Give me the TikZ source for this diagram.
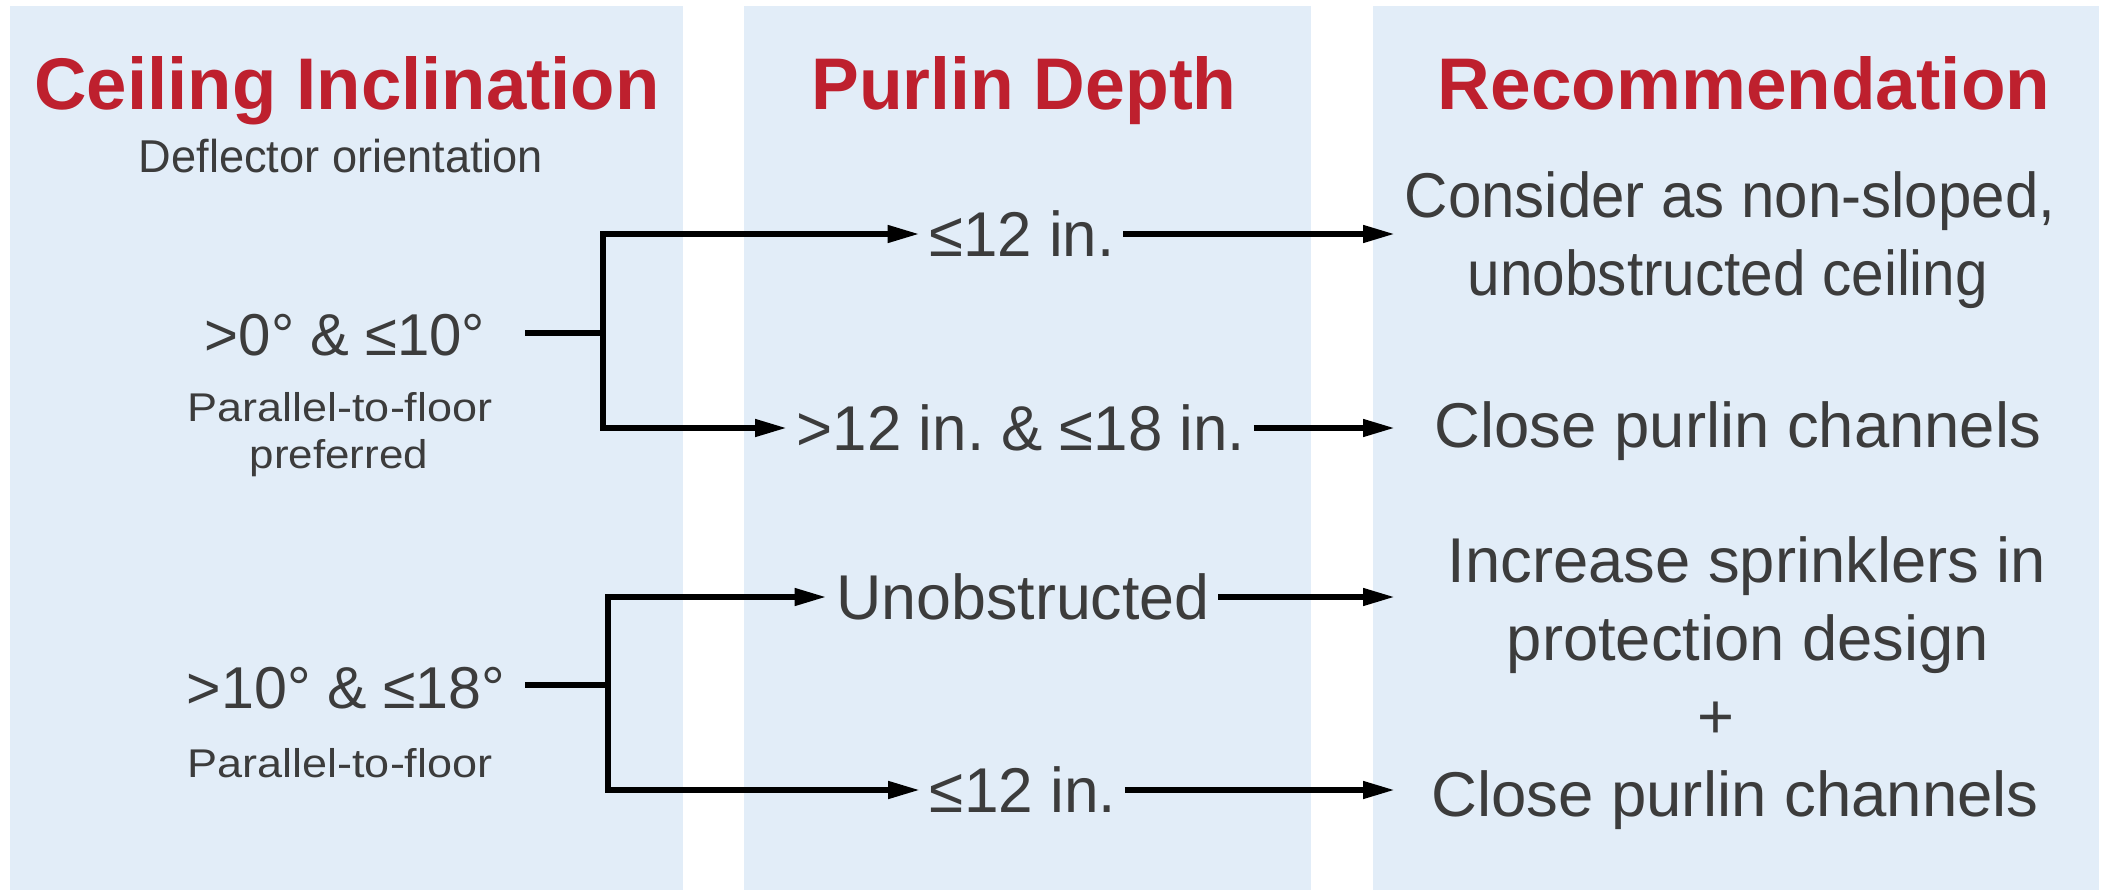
\documentclass[tikz,border=0pt]{standalone}
\usepackage{fontspec}
\setmainfont{Liberation Sans}
\usepackage{graphicx}
\usetikzlibrary{arrows.meta}
\frenchspacing
\definecolor{panelblue}{RGB}{226,237,248}
\definecolor{titlered}{RGB}{190,32,46}
\definecolor{txtgray}{RGB}{60,60,60}
\newcommand{\fw}[2]{\resizebox{#1}{\height}{#2}}
\tikzset{
  panel/.style={fill=panelblue, draw=none},
  ttl/.style={font=\bfseries\fontsize{20.8pt}{25pt}\selectfont, text=titlered, inner sep=0pt, anchor=base},
  subt/.style={font=\fontsize{13.1pt}{16pt}\selectfont, text=txtgray, inner sep=0pt, anchor=base},
  small/.style={font=\fontsize{11.4pt}{14pt}\selectfont, text=txtgray, inner sep=0pt, anchor=base},
  ltxt/.style={font=\fontsize{16.8pt}{20pt}\selectfont, text=txtgray, inner sep=0pt, anchor=base},
  mtxt/.style={font=\fontsize{18pt}{21pt}\selectfont, text=txtgray, inner xsep=0.08cm, inner ysep=0pt,
               text height=12.9pt, text depth=0pt, anchor=center},
  rtxt/.style={font=\fontsize{18pt}{21pt}\selectfont, text=txtgray, inner sep=0pt, anchor=base},
  ln/.style={line width=0.068cm, draw=black},
  arr/.style={ln, -{Triangle[length=0.33cm,width=0.16cm]}},
}
\begin{document}
\begin{tikzpicture}[x=0.01cm,y=-0.01cm]
\fill[white] (0,0) rectangle (2109,894);
\useasboundingbox (0,0) rectangle (2109,894);
% panels
\fill[panel] (10,6) rectangle (683,890);
\fill[panel] (744,6) rectangle (1311,890);
\fill[panel] (1373,6) rectangle (2099,890);
% titles
\node[ttl] (t1) at (347,110) {\fw{6.25cm}{Ceiling Inclination}};
\node[ttl] (t2) at (1024,110) {\fw{4.25cm}{Purlin Depth}};
\node[ttl] (t3) at (1744,110) {\fw{6.12cm}{Recommendation}};
\node[subt] (st1) at (341,173) {\fw{4.04cm}{Deflector orientation}};
% left column
\node[ltxt] (l1) at (345,355) {\fw{2.80cm}{>0° \& ≤10°}};
\node[small] (l1a) at (340,422) {\fw{3.05cm}{Parallel-to-floor}};
\node[small] (l1b) at (339,468) {\fw{1.78cm}{preferred}};
\node[ltxt] (l2) at (346,708) {\fw{3.18cm}{>10° \& ≤18°}};
\node[small] (l2a) at (340,777) {\fw{3.05cm}{Parallel-to-floor}};
% middle column
\node[mtxt] (m1) at (1022,234) {\fw{1.85cm}{≤12 in.}};
\node[mtxt] (m2) at (1021,428) {\fw{4.48cm}{>12 in. \& ≤18 in.}};
\node[mtxt] (m3) at (1023,597) {\fw{3.73cm}{Unobstructed}};
\node[mtxt] (m4) at (1023,790) {\fw{1.86cm}{≤12 in.}};
% right column
\node[rtxt, minimum width=6.66cm] (r1a) at (1730,218) {\fw{6.50cm}{Consider as non-sloped,}};
\node[rtxt] (r1b) at (1728,295) {\fw{5.20cm}{unobstructed ceiling}};
\node[rtxt, minimum width=6.82cm] (r2) at (1738,447) {\fw{6.06cm}{Close purlin channels}};
\node[rtxt, minimum width=7.00cm] (r3a) at (1747,582) {\fw{5.98cm}{Increase sprinklers in}};
\node[rtxt] (r3b) at (1748,660) {\fw{4.82cm}{protection design}};
\node[rtxt] (r3c) at (1716,738) {+};
\node[rtxt, minimum width=6.76cm] (r3d) at (1735,816) {\fw{6.07cm}{Close purlin channels}};
% junctions
\coordinate (s1) at (525,333);
\coordinate (j1) at (603,333);
\coordinate (s2) at (525,685);
\coordinate (j2) at (608,685);
% connectors
\draw[ln] (s1) -- (j1);
\draw[arr] (j1) |- (m1.west);
\draw[arr] (j1) |- (m2.west);
\draw[ln] (s2) -- (j2);
\draw[arr] (j2) |- (m3.west);
\draw[arr] (j2) |- (m4.west);
\draw[arr] (m1.east) -- (m1.east -| r1a.west);
\draw[arr] (m2.east) -- (m2.east -| r2.west);
\draw[arr] (m3.east) -- (m3.east -| r3a.west);
\draw[arr] (m4.east) -- (m4.east -| r3d.west);
\end{tikzpicture}
\end{document}
